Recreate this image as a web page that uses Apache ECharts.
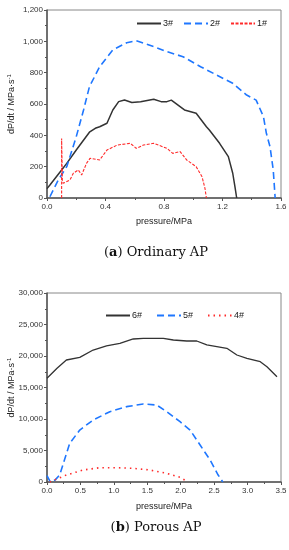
<!DOCTYPE html>
<html><head><meta charset="utf-8">
<script src="https://cdn.jsdelivr.net/npm/echarts@6/dist/echarts.min.js"></script>
<style>html,body{margin:0;padding:0;background:#fff}#c{width:289px;height:550px}</style>
</head><body><div id="c"></div>
<script>
// ---- Chart (a) Ordinary AP ----
const xTicksA = [0.0, 0.4, 0.8, 1.2, 1.6];
const yTicksA = [0, 200, 400, 600, 800, 1000, 1200];
const p3 = [0.0, 0.02, 0.1, 0.135, 0.2, 0.29, 0.33, 0.36, 0.41, 0.45, 0.49, 0.53, 0.58, 0.64, 0.73, 0.78, 0.82, 0.85, 0.91, 0.94, 1.02, 1.09, 1.11, 1.18, 1.24, 1.27, 1.285, 1.297];
const v3 = [60, 83, 179, 221, 306, 420, 445, 455, 477, 562, 615, 625, 610, 615, 630, 615, 615, 625, 583, 562, 541, 455, 434, 349, 264, 158, 72, 0];
const p2 = [0.02, 0.077, 0.135, 0.2, 0.25, 0.29, 0.36, 0.45, 0.545, 0.61, 0.73, 0.82, 0.93, 1.05, 1.16, 1.27, 1.365, 1.43, 1.48, 1.50, 1.525, 1.547, 1.56];
const v2 = [8, 115, 200, 391, 562, 710, 838, 945, 991, 1004, 966, 934, 902, 838, 785, 732, 657, 625, 519, 413, 327, 179, 0];
const p1 = [0.1, 0.1, 0.105, 0.11, 0.157, 0.18, 0.214, 0.237, 0.27, 0.294, 0.36, 0.41, 0.48, 0.57, 0.61, 0.66, 0.73, 0.82, 0.86, 0.91, 0.955, 1.02, 1.06, 1.08, 1.09];
const v1 = [0, 380, 110, 94, 115, 158, 179, 147, 221, 253, 243, 306, 338, 349, 317, 338, 349, 317, 285, 296, 243, 200, 136, 62, 0];
// ---- Chart (b) Porous AP ----
const xTicksB = [0.0, 0.5, 1.0, 1.5, 2.0, 2.5, 3.0, 3.5];
const yTicksB = [0, 5000, 10000, 15000, 20000, 25000, 30000];
const p6 = [0.0, 0.15, 0.29, 0.49, 0.69, 0.89, 1.09, 1.29, 1.44, 1.74, 1.89, 2.09, 2.24, 2.39, 2.69, 2.84, 2.99, 3.19, 3.29, 3.44];
const v6 = [16460, 18050, 19365, 19790, 20950, 21590, 22010, 22700, 22800, 22800, 22540, 22380, 22380, 21750, 21220, 20160, 19630, 19100, 18300, 16710];
const p5 = [0.0, 0.05, 0.12, 0.19, 0.34, 0.49, 0.69, 0.94, 1.19, 1.44, 1.64, 1.79, 1.99, 2.14, 2.29, 2.44, 2.56, 2.63];
const v5 = [1000, 0, 300, 1110, 6140, 8250, 9840, 11160, 11960, 12380, 12220, 11160, 9570, 8250, 5870, 3490, 1110, 0];
const p4 = [0.04, 0.29, 0.54, 0.79, 1.04, 1.29, 1.54, 1.79, 1.99, 2.11];
const v4 = [0, 1110, 1900, 2270, 2270, 2170, 1900, 1380, 740, 0];

const zip = (a, b) => a.map((x, i) => [x, b[i]]);
const FONT = 'Liberation Sans, Arial, sans-serif';
const SERIF = 'DejaVu Serif, Liberation Serif, serif';
const BLACK = '#333333', BLUE = '#1f77ff', RED = '#ff2a2a';

function xAxis(idx, ticks, gap) {
  return {
    type: 'value', gridIndex: idx, min: ticks[0], max: ticks[ticks.length - 1],
    interval: ticks[1] - ticks[0],
    name: 'pressure/MPa', nameLocation: 'middle', nameGap: gap, nameMoveOverlap: false,
    nameTextStyle: { fontFamily: FONT, fontSize: 9, color: '#222' },
    axisLine: { show: true, onZero: false, lineStyle: { color: '#555', width: 1.5 } },
    axisTick: { show: true, inside: false, length: 3, lineStyle: { color: '#555' } },
    minorTick: { show: true, splitNumber: 2, length: 2, lineStyle: { color: '#555' } },
    splitLine: { show: false },
    axisLabel: { fontFamily: FONT, fontSize: 8, color: '#333', margin: 5, formatter: v => v.toFixed(1) }
  };
}
function yAxis(idx, ticks) {
  return {
    type: 'value', gridIndex: idx, min: ticks[0], max: ticks[ticks.length - 1],
    interval: ticks[1] - ticks[0],
    name: '{a|dP/dt / MPa·s}{s|-1}', nameLocation: 'middle', nameGap: 30, nameMoveOverlap: false,
    nameTextStyle: { fontFamily: FONT, fontSize: 9, color: '#222',
      rich: { a: { fontFamily: FONT, fontSize: 9, color: '#222' }, s: { fontFamily: FONT, fontSize: 6, color: '#222', verticalAlign: 'top', padding: [0, 0, 5, 0] } } },
    axisLine: { show: true, lineStyle: { color: '#555', width: 1.5 } },
    axisTick: { show: true, inside: false, length: 3, lineStyle: { color: '#555' } },
    minorTick: { show: true, splitNumber: 2, length: 2, lineStyle: { color: '#555' } },
    splitLine: { show: false },
    axisLabel: { fontFamily: FONT, fontSize: 8, color: '#333', margin: 4, formatter: v => v.toLocaleString('en-US') }
  };
}
function line(name, idx, data, color, width, dash) {
  return {
    name, type: 'line', xAxisIndex: idx, yAxisIndex: idx, data, symbol: 'none',
    smooth: false, animation: false,
    lineStyle: { color, width, type: dash || 'solid' }, itemStyle: { color }
  };
}
const legendCommon = { itemWidth: 24, itemHeight: 8,
  itemStyle: { opacity: 0 },
  textStyle: { fontFamily: FONT, fontSize: 9, color: '#222', padding: [0, 0, 0, -3] } };
const capRich = { b: { fontFamily: SERIF, fontSize: 13, fill: '#111' }, bb: { fontFamily: SERIF, fontSize: 13, fontWeight: 'bold', fill: '#111' } };

const chart = echarts.init(document.getElementById('c'), null, { renderer: 'canvas' });
chart.setOption({
  animation: false,
  grid: [
    { left: 47, top: 10, width: 234, height: 188, show: true, borderColor: '#888', borderWidth: 1, backgroundColor: 'transparent', containLabel: false, outerBoundsMode: 'none' },
    { left: 47, top: 293, width: 234, height: 189, show: true, borderColor: '#888', borderWidth: 1, backgroundColor: 'transparent', containLabel: false, outerBoundsMode: 'none' }
  ],
  xAxis: [xAxis(0, xTicksA, 19), xAxis(1, xTicksB, 20)],
  yAxis: [yAxis(0, yTicksA), yAxis(1, yTicksB)],
  legend: [
    Object.assign({ data: ['3#', '2#', '1#'], left: 131, top: 14, itemGap: 10 }, legendCommon),
    Object.assign({ data: ['6#', '5#', '4#'], left: 100, top: 306, itemGap: 14 }, legendCommon)
  ],
  series: [
    line('3#', 0, zip(p3, v3), BLACK, 1.5),
    line('2#', 0, zip(p2, v2), BLUE, 1.6, [7, 4]),
    line('1#', 0, zip(p1, v1), RED, 1.1, [3, 1.5]),
    line('6#', 1, zip(p6, v6), BLACK, 1.3),
    line('5#', 1, zip(p5, v5), BLUE, 1.6, [7, 4]),
    line('4#', 1, zip(p4, v4), RED, 1.6, [1.5, 4])
  ],
  graphic: [
    { type: 'text', x: 156, y: 253, style: { text: '{b|(}{bb|a}{b|) Ordinary AP}', align: 'center', verticalAlign: 'middle', rich: capRich } },
    { type: 'text', x: 156, y: 528, style: { text: '{b|(}{bb|b}{b|) Porous AP}', align: 'center', verticalAlign: 'middle', rich: capRich } }
  ]
});
</script></body></html>
